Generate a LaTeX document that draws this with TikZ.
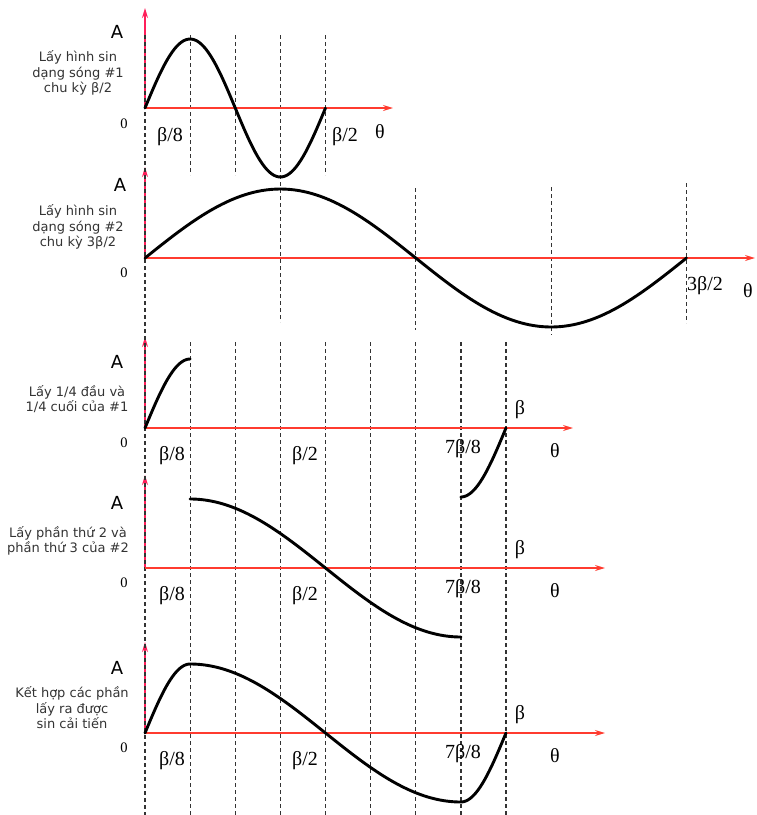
\documentclass[tikz,border=0pt]{standalone}
\usepackage{fontspec}
\setmainfont{Liberation Serif}
\newfontfamily\vnsans{DejaVu Sans}
\usetikzlibrary{arrows.meta}
\definecolor{axred}{HTML}{FF3B2F}
\definecolor{axpink}{HTML}{FF1F5A}
\definecolor{txtgray}{HTML}{333333}
\begin{document}
\begin{tikzpicture}[x=1pt,y=-1pt,line join=round,
  vaxis/.style={axpink,line width=1.4pt,-{Stealth[length=10pt,width=6pt]}},
  haxis/.style={axred,line width=1.4pt,-{Stealth[length=10pt,width=6pt]}},
  vdash/.style={black!80,line width=1.25pt,dash pattern=on 4pt off 3pt},
  wave/.style={line width=2.9pt,line cap=round},
  amp/.style={font=\vnsans\fontsize{18}{20}\selectfont},
  note/.style={font=\vnsans\fontsize{13}{15.5}\selectfont,align=center,text=txtgray},
  lbl/.style={anchor=base,inner sep=0pt,font=\fontsize{20}{22}\selectfont},
  zlbl/.style={anchor=base,inner sep=0pt,font=\fontsize{14.5}{16}\selectfont}]
  \useasboundingbox (0,0) rectangle (757,815);
  % one step of beta/8 is \kx wide, the amplitude is 69 everywhere
  \def\kx{45.125}
  \def\sT#1{%
    \node[zlbl] (z#1) at (-21,19) {0};
    \node[lbl] (e#1) at (27,32) {β/8};
    \node[lbl] (h#1) at (160,32) {β/2};
    \node[lbl] (s#1) at (318,25) {7β/8};
    \node[lbl] (b#1) at (375,-14) {β};
    \node[lbl] (t#1) at (410,29) {θ};}
  \foreach \y/\t in {108/100,258/91,428/91,568/93,733/91}
    \draw[vaxis] (145,\y) -- (145,\y-\t);
  \draw[vdash] (145,35) -- (145,815);
  \foreach \k in {1,2,4}
    \draw[vdash] ({145+\kx*\k},35) -- ({145+\kx*\k},175);
  \draw[vdash] ({145+\kx*3},35) -- ({145+\kx*3},322);
  \foreach \k/\a/\b in {6/188/330,9/187/335,12/183/323}
    \draw[vdash] ({145+\kx*\k},\a) -- ({145+\kx*\k},\b);
  \foreach \k in {1,...,8}
    \draw[vdash] ({145+\kx*\k},342) -- ({145+\kx*\k},815);
  \begin{scope}[shift={(145,108)}]
    \draw[haxis] (0,0) -- (248,0);
    \draw[wave] plot[domain=0:4,samples=81] ({\kx*\x},{-69*sin(90*\x)});
    \node[amp] (a1) at (-28,-76) {A};
    \node[note] (n1) at (-67,-35) {Lấy hình sin\\dạng sóng \#1\\chu kỳ β/2};
    \node[zlbl] (z1) at (-21,20) {0};
    \node[lbl] (e1) at (25,33) {β/8};
    \node[lbl] (h1) at (200,33) {β/2};
    \node[lbl] (t1) at (235,30) {θ};
  \end{scope}
  \begin{scope}[shift={(145,258)}]
    \draw[haxis] (0,0) -- (610,0);
    \draw[wave] plot[domain=0:12,samples=121] ({\kx*\x},{-69*sin(30*\x)});
    \node[amp] (a2) at (-25,-73) {A};
    \node[note] (n2) at (-67,-31) {Lấy hình sin\\dạng sóng \#2\\chu kỳ 3β/2};
    \node[zlbl] (z2) at (-21,19) {0};
    \node[lbl] (p2) at (560,32) {3β/2};
    \node[lbl] (t2) at (603,39) {θ};
  \end{scope}
  \begin{scope}[shift={(145,428)}]
    \draw[haxis] (0,0) -- (428,0);
    \draw[wave] plot[domain=0:1,samples=31] ({\kx*\x},{-69*sin(90*\x)});
    \draw[wave] plot[domain=7:8,samples=31] ({\kx*\x},{-69*sin(90*\x)});
    \node[amp] (a3) at (-28,-66) {A};
    \node[note] (n3) at (-68,-29) {Lấy 1/4 đầu và\\1/4 cuối của \#1};
    \sT{3}
  \end{scope}
  \begin{scope}[shift={(145,568)}]
    \draw[haxis] (0,0) -- (460,0);
    \draw[wave] plot[domain=1:7,samples=91] ({\kx*\x},{-69*cos(30*(\x-1))});
    \node[amp] (a4) at (-28,-65) {A};
    \node[note] (n4) at (-77,-27) {Lấy phần thứ 2 và\\phần thứ 3 của \#2};
    \sT{4}
  \end{scope}
  \begin{scope}[shift={(145,733)}]
    \draw[haxis] (0,0) -- (460,0);
    \draw[wave] plot[domain=0:1,samples=31] ({\kx*\x},{-69*sin(90*\x)})
      -- plot[domain=1:7,samples=91] ({\kx*\x},{-69*cos(30*(\x-1))})
      -- plot[domain=7:8,samples=31] ({\kx*\x},{-69*sin(90*\x)});
    \node[amp] (a5) at (-28,-65) {A};
    \node[note] (n5) at (-73,-25) {Kết hợp các phần\\lấy ra được\\sin cải tiến};
    \sT{5}
  \end{scope}
\end{tikzpicture}
\end{document}
